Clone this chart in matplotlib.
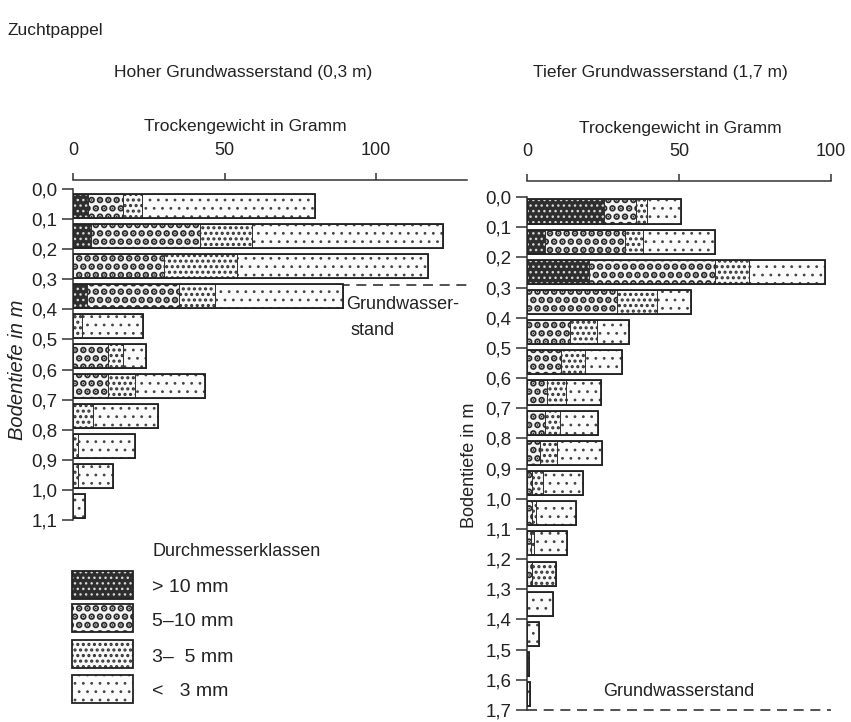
import matplotlib
matplotlib.use("Agg")
import matplotlib.pyplot as plt
from matplotlib.patches import Rectangle
import numpy as np

plt.rcParams['font.family'] = ['Liberation Sans', 'DejaVu Sans']

# ---- data: dry weight (g) per 10 cm soil layer, by root diameter class ----
classes = ["> 10 mm", "5\u201310 mm", "3\u2013  5 mm", "<   3 mm"]

# high groundwater table (0.3 m), layers 0.0-1.1 m
high_depth = [0.0, 0.1, 0.2, 0.3, 0.4, 0.5, 0.6, 0.7, 0.8, 0.9, 1.0]
high_gt10 = [5.0, 6.0, 0.0, 4.5, 0, 0, 0, 0, 0, 0, 0]
high_5_10 = [11.5, 36.0, 30.0, 30.5, 0, 11.5, 11.5, 0, 0, 0, 0]
high_3_5 = [6.3, 17.0, 24.0, 12.0, 3.0, 5.0, 9.0, 6.6, 1.7, 1.7, 0]
high_lt3 = [57.2, 63.0, 63.0, 42.0, 20.0, 7.5, 23.0, 21.4, 18.8, 11.6, 4.0]
high_ticks = ["0,0", "0,1", "0,2", "0,3", "0,4", "0,5", "0,6", "0,7", "0,8", "0,9", "1,0", "1,1"]
high_water = 0.32

# low groundwater table (1.7 m), layers 0.0-1.7 m
low_depth = [0.0, 0.1, 0.2, 0.3, 0.4, 0.5, 0.6, 0.7, 0.8, 0.9, 1.0, 1.1, 1.2, 1.3, 1.4, 1.5, 1.6]
low_gt10 = [25.4, 6.0, 20.5, 0, 0, 0, 0, 0, 0, 0, 0, 0, 0, 0, 0, 0, 0]
low_5_10 = [10.6, 26.3, 41.5, 29.7, 14.0, 11.2, 6.6, 6.0, 4.3, 1.6, 1.5, 1.2, 1.5, 0, 0, 0, 0]
low_3_5 = [3.5, 5.7, 11.0, 12.9, 9.0, 7.8, 6.3, 5.0, 5.7, 3.7, 1.5, 1.1, 8.1, 0, 0, 0, 0]
low_lt3 = [11.3, 23.7, 25.0, 11.4, 10.7, 12.3, 11.5, 12.5, 14.7, 13.2, 13.0, 10.9, 0, 8.6, 4.0, 0.7, 1.0]
low_ticks = ["0,0", "0,1", "0,2", "0,3", "0,4", "0,5", "0,6", "0,7", "0,8", "0,9", "1,0",
             "1,1", "1,2", "1,3", "1,4", "1,5", "1,6", "1,7"]
low_water = 1.7

x_ticks = [0, 50, 100]

# fill styles per class: (face, hatch, hatch colour, hatch line width)
styles = [
    ("#2e2e2e", "...", "#d8d8d8", 1.0),
    ("#f4f4f4", "..", "#2a2a2a", 3.4),
    ("#f8f8f8", "...", "#333333", 1.5),
    ("#fbfbfb", "..", "#444444", 0.8),
]

W, H = 851, 722
fig = plt.figure(figsize=(W / 100, H / 100), dpi=100)


def px_axes(x0, y0, x1, y1):
    return fig.add_axes([x0 / W, 1 - y1 / H, (x1 - x0) / W, (y1 - y0) / H])


def draw_panel(ax, depth, series, ticks, xmax, ytop, ybottom, offset):
    depth = np.asarray(depth)
    h = 0.08
    centers = depth + offset
    left = np.zeros(len(depth))
    for vals, (face, hatch, hc, hlw) in zip(series, styles):
        vals = np.asarray(vals, dtype=float)
        with plt.rc_context({"hatch.linewidth": hlw}):
            ax.barh(centers, vals, left=left, height=h, color=face, edgecolor=hc,
                    hatch=hatch, linewidth=0, zorder=3)
        ax.barh(centers, vals, left=left, height=h, fill=False,
                edgecolor="#333333", linewidth=0.7, zorder=4)
        left = left + vals
    ax.barh(centers, left, height=h, fill=False, edgecolor="#222222",
            linewidth=1.3, zorder=5)

    ax.set_xlim(0, xmax)
    ax.set_ylim(ybottom, ytop)
    for s in ("right", "bottom"):
        ax.spines[s].set_visible(False)
    ax.spines["left"].set_bounds(0, ybottom)
    ax.spines["top"].set_bounds(0, xmax)
    for s in ("left", "top"):
        ax.spines[s].set_linewidth(1.1)
        ax.spines[s].set_color("#333333")
    ax.xaxis.tick_top()
    ax.set_xticks(x_ticks)
    ax.set_xticklabels([str(v) for v in x_ticks], fontsize=13, color="#222222")
    ax.tick_params(axis="x", length=5, width=1.1, pad=10, color="#333333")
    yt = np.arange(len(ticks)) * 0.1
    ax.set_yticks(yt)
    ax.set_yticklabels(ticks, fontsize=13.5, color="#222222")
    ax.tick_params(axis="y", length=8, width=1.1, pad=3, color="#333333")
    ax.patch.set_visible(False)


# left panel: high groundwater table
axL = px_axes(73, 180, 467, 520)
draw_panel(axL, high_depth, [high_gt10, high_5_10, high_3_5, high_lt3],
           high_ticks, 130, -0.03, 1.1, 0.055)
axL.axhline(high_water, color="#333333", lw=1.2, ls=(0, (6, 4)), zorder=1)
axL.text(90, 0.385, "Grundwasser-", fontsize=13, color="#222222", va="center")
axL.text(91.5, 0.47, "stand", fontsize=13, color="#222222", va="center")

# right panel: low groundwater table
axR = px_axes(527, 181, 831, 710)
draw_panel(axR, low_depth, [low_gt10, low_5_10, low_3_5, low_lt3],
           low_ticks, 100, -0.053, 1.7, 0.048)
axR.plot([0, 100], [low_water, low_water], color="#333333", lw=1.2,
         ls=(0, (6, 4)), zorder=1, clip_on=False)
axR.text(50, 1.64, "Grundwasserstand", fontsize=13, color="#222222",
         ha="center", va="center")

# text overlay in figure pixels
ov = fig.add_axes([0, 0, 1, 1])
ov.set_xlim(0, W)
ov.set_ylim(H, 0)
ov.axis("off")
ov.patch.set_visible(False)

ov.text(8, 30, "Zuchtpappel", fontsize=12.5, color="#222222", va="center")
ov.text(243, 73, "Hoher Grundwasserstand (0,3 m)", fontsize=12.5, color="#222222",
        ha="center", va="center")
ov.text(660, 73, "Tiefer Grundwasserstand (1,7 m)", fontsize=12.5, color="#222222",
        ha="center", va="center")
ov.text(245, 126, "Trockengewicht in Gramm", fontsize=12.5, color="#222222",
        ha="center", va="center")
ov.text(680, 128, "Trockengewicht in Gramm", fontsize=12.5, color="#222222",
        ha="center", va="center")
ov.text(18, 370, "Bodentiefe in m", fontsize=14.5, color="#222222", rotation=90,
        ha="center", va="center", style="italic")
ov.text(470, 465, "Bodentiefe in m", fontsize=13, color="#222222", rotation=90,
        ha="center", va="center")

# legend: diameter classes
ov.text(152, 552, "Durchmesserklassen", fontsize=13, color="#222222", va="center")
leg_y = [571, 604, 640, 675]
for (face, hatch, hc, hlw), label, y in zip(styles, classes, leg_y):
    with plt.rc_context({"hatch.linewidth": hlw}):
        ov.add_patch(Rectangle((72, y), 61, 28, facecolor=face, edgecolor=hc,
                               hatch=hatch, linewidth=0))
    ov.add_patch(Rectangle((72, y), 61, 28, fill=False, edgecolor="#222222",
                           linewidth=1.3))
    ov.text(152, y + 17, label, fontsize=14, color="#222222", va="center")

fig.savefig("out.png", dpi=100)
